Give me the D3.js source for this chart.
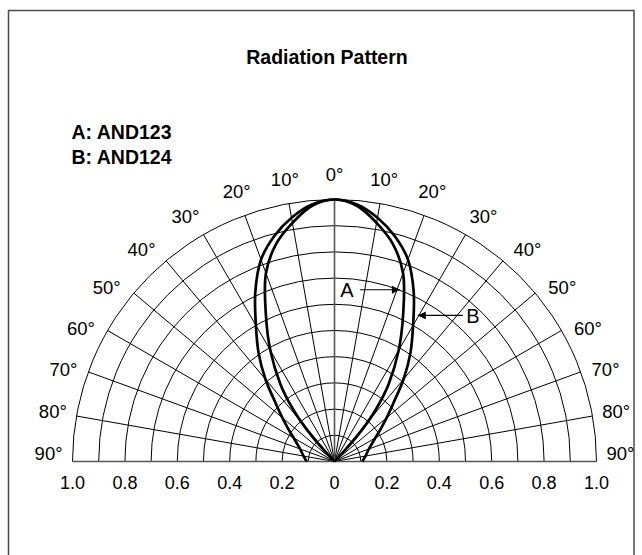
<!DOCTYPE html>
<html>
<head>
<meta charset="utf-8">
<script src="https://cdn.jsdelivr.net/npm/d3@7"></script>
<style>
  html, body { margin: 0; padding: 0; background: #fff; }
  svg { display: block; }
  text { font-family: "Liberation Sans", Arial, Helvetica, sans-serif; fill: #000; }
</style>
</head>
<body>
<svg id="chart" width="642" height="555"></svg>
<script>
// ---------- data ----------
const title = "Radiation Pattern";
const legendLines = ["A: AND123", "B: AND124"];
const ringValues = [0.1, 0.2, 0.3, 0.4, 0.5, 0.6, 0.7, 0.8, 0.9, 1.0];
const spokeAngles = [-90, -80, -70, -60, -50, -40, -30, -20, -10, 0, 10, 20, 30, 40, 50, 60, 70, 80, 90];
const angleLabels = [0, 10, 20, 30, 40, 50, 60, 70, 80, 90];
const axisTicks = [-1.0, -0.8, -0.6, -0.4, -0.2, 0, 0.2, 0.4, 0.6, 0.8, 1.0];

// curve A (AND123): angle (deg) and relative intensity, one side (symmetric)
const anglesA    = [0,   5,    10,    15,   20,    25,   30,   35,   38,   40,   42,   44];
const intensityA = [1.0, 0.98, 0.925, 0.86, 0.765, 0.62, 0.49, 0.36, 0.27, 0.20, 0.11, 0.0];
// curve B (AND124)
const anglesB    = [0,   5,     10,    15,   20,   25,    30,   35,    40,   45,   50,   55,    60,   70,    80,   90];
const intensityB = [1.0, 0.985, 0.945, 0.89, 0.82, 0.715, 0.60, 0.505, 0.41, 0.32, 0.26, 0.215, 0.18, 0.14, 0.12, 0.106];

// annotation labels
const annotations = [
  { name: "A", curve: "A", angle: 22,   textDx: -57, gap: 13 },
  { name: "B", curve: "B", angle: 28.5, textDx: 59,  gap: 10 }
];

// ---------- layout ----------
const svg = d3.select("#chart");
const cx = 334.5, cy = 461.5, R = 262;
const rScale = d3.scaleLinear().domain([0, 1]).range([0, R]);
const xScale = d3.scaleLinear().domain([-1, 1]).range([cx - R, cx + R]);
const rad = d => d * Math.PI / 180;

// frame
svg.append("rect")
  .attr("x", 8.5).attr("y", 10.5).attr("width", 625.5).attr("height", 600)
  .attr("fill", "none").attr("stroke", "#4a4a4a").attr("stroke-width", 1.5);

// title
svg.append("text").attr("x", 327).attr("y", 63.5)
  .attr("text-anchor", "middle").attr("font-weight", "bold").attr("font-size", 19.5)
  .text(title);

// legend
svg.selectAll("text.legend").data(legendLines).enter().append("text")
  .attr("class", "legend")
  .attr("x", 71.5).attr("y", (d, i) => 139.3 + i * 24.7)
  .attr("font-weight", "bold").attr("font-size", 19.5)
  .text(d => d);

const g = svg.append("g").attr("transform", `translate(${cx},${cy})`);

// rings (semicircles)
g.selectAll("path.ring").data(ringValues).enter().append("path")
  .attr("class", "ring")
  .attr("d", d => {
    const r = rScale(d);
    return `M${-r},0 A${r},${r} 0 0 1 ${r},0`;
  })
  .attr("fill", "none").attr("stroke", "#000").attr("stroke-width", 1);

// spokes
g.selectAll("line.spoke").data(spokeAngles.filter(a => a !== 0 && Math.abs(a) !== 90)).enter().append("line")
  .attr("class", "spoke")
  .attr("x1", 0).attr("y1", 0)
  .attr("x2", d => rScale(1) * Math.sin(rad(d)))
  .attr("y2", d => -rScale(1) * Math.cos(rad(d)))
  .attr("stroke", "#000").attr("stroke-width", 1);

// vertical 0° line and baseline (greyer)
g.append("line").attr("x1", 0).attr("y1", 0).attr("x2", 0).attr("y2", -rScale(1))
  .attr("stroke", "#555").attr("stroke-width", 1.6);
g.append("line").attr("x1", xScale(-1) - cx).attr("y1", 0).attr("x2", xScale(1) - cx).attr("y2", 0)
  .attr("stroke", "#555").attr("stroke-width", 1.6);

// curves
function buildPoints(angles, vals) {
  const pts = [];
  for (let i = angles.length - 1; i > 0; i--) pts.push({ a: -angles[i], v: vals[i] });
  for (let i = 0; i < angles.length; i++) pts.push({ a: angles[i], v: vals[i] });
  return pts;
}
const lineR = d3.lineRadial()
  .angle(d => rad(d.a))
  .radius(d => rScale(d.v))
  .curve(d3.curveCatmullRom.alpha(0.5));

const curveData = {
  A: buildPoints(anglesA, intensityA),
  B: buildPoints(anglesB, intensityB)
};
["B", "A"].forEach(k => {
  g.append("path").attr("d", lineR(curveData[k]))
    .attr("fill", "none").attr("stroke", "#000").attr("stroke-width", 2.7)
    .attr("stroke-linejoin", "round");
});

// annotations: arrow tip on curve, computed by interpolation of data
function curvePoint(key, angle) {
  const as = key === "A" ? anglesA : anglesB;
  const vs = key === "A" ? intensityA : intensityB;
  const v = d3.scaleLinear().domain(as).range(vs)(angle);
  return [rScale(v) * Math.sin(rad(angle)), -rScale(v) * Math.cos(rad(angle))];
}
svg.append("defs").append("marker")
  .attr("id", "arrow").attr("viewBox", "0 0 10 10").attr("refX", 10).attr("refY", 5)
  .attr("markerWidth", 15).attr("markerHeight", 8).attr("markerUnits", "userSpaceOnUse")
  .attr("orient", "auto")
  .append("path").attr("d", "M0,0 L10,5 L0,10 Z").attr("fill", "#000");

annotations.forEach(an => {
  const p = curvePoint(an.curve, an.angle);
  const side = Math.sign(an.textDx);
  const tipX = p[0] + side * 4;
  const textX = p[0] + an.textDx;
  const startX = textX - side * an.gap;
  g.append("line").attr("x1", startX).attr("y1", p[1]).attr("x2", tipX).attr("y2", p[1])
    .attr("stroke", "#000").attr("stroke-width", 1.2).attr("marker-end", "url(#arrow)");
  g.append("text").attr("x", textX).attr("y", p[1]).attr("dy", "0.36em")
    .attr("text-anchor", "middle").attr("font-size", 20).text(an.name);
});

// angle labels
const labelR = 286;
function labelAngle(aa) {
  if (aa >= 20 && aa <= 80) return aa + 2.8 * Math.sin(Math.PI * (aa - 20) / 60);
  if (aa > 80) return aa - 1.5 * (aa - 80) / 10;
  return aa;
}
const labelPts = [];
angleLabels.forEach(a => {
  const sides = a === 0 ? [0] : [-a, a];
  sides.forEach(s => labelPts.push({ a: s, text: Math.abs(s) + "°" }));
});
g.selectAll("text.ang").data(labelPts).enter().append("text")
  .attr("class", "ang")
  .attr("x", d => Math.sign(d.a) * labelR * Math.sin(rad(labelAngle(Math.abs(d.a)))))
  .attr("y", d => -labelR * Math.cos(rad(labelAngle(Math.abs(d.a)))) - 1)
  .attr("dy", "0.36em").attr("text-anchor", "middle").attr("font-size", 18.5)
  .text(d => d.text);

// x axis labels
g.selectAll("text.tick").data(axisTicks).enter().append("text")
  .attr("class", "tick")
  .attr("x", d => xScale(d) - cx)
  .attr("y", 27)
  .attr("text-anchor", "middle").attr("font-size", 18)
  .text(d => d === 0 ? "0" : Math.abs(d).toFixed(1));
</script>
</body>
</html>
